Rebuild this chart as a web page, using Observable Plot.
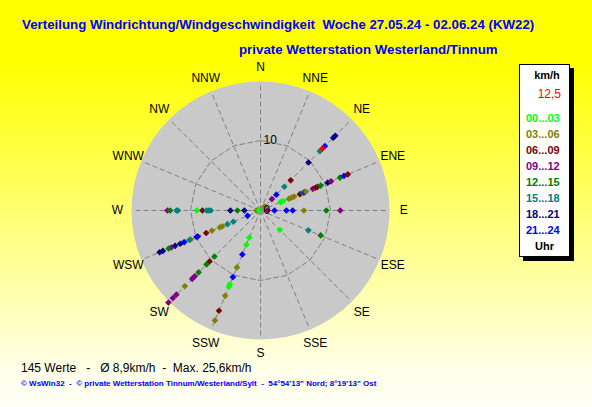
<!DOCTYPE html>
<html>
<head>
<meta charset="utf-8">
<script src="https://cdn.jsdelivr.net/npm/d3@7"></script>
<script src="https://cdn.jsdelivr.net/npm/@observablehq/plot@0.6"></script>
<style>
  body { margin: 0; }
  #wrap { position: relative; width: 592px; height: 407px; overflow: hidden;
    background: linear-gradient(to bottom, #ffff00 0px, #ffff00 60px, #ffffe8 370px, #fffff6 407px);
    font-family: Arial, "Liberation Sans", sans-serif; }
  #chart { position: absolute; left: 0; top: 0; }
  .t { position: absolute; white-space: pre; line-height: 1; }
  #legend { position: absolute; left: 519px; top: 64px; width: 49px; height: 191px;
    background: #fff; border: 1px solid #000; box-shadow: 4px 4px 0 #000; }
  #legend div { position: absolute; white-space: pre; line-height: 1; }
</style>
</head>
<body>
<div id="wrap">
  <div id="chart"></div>
  <div class="t" id="title" style="left:22px;top:18px;font-size:13.3px;font-weight:bold;color:#0000ff"></div>
  <div class="t" id="subtitle" style="left:239px;top:43px;font-size:13.3px;font-weight:bold;color:#0000ff"></div>
  <div id="legend"></div>
  <div class="t" id="foot1" style="left:21px;top:362px;font-size:12px;color:#000"></div>
  <div class="t" id="foot2" style="left:21px;top:380px;font-size:8px;font-weight:bold;color:#0000ff"></div>
</div>
<script>
// ---- texts ----
const titleText = "Verteilung Windrichtung/Windgeschwindigkeit  Woche 27.05.24 - 02.06.24 (KW22)";
const subtitleText = "private Wetterstation Westerland/Tinnum";
const footLine1 = "145 Werte   -   Ø 8,9km/h  -  Max. 25,6km/h";
const footLine2 = "© WsWin32  -  © private Wetterstation Tinnum/Westerland/Sylt  -  54°54'13\" Nord; 8°19'13\" Ost";
const legendUnit = "km/h";
const legendCurrent = "12,5";
const legendFooter = "Uhr";

// ---- categories ----
const directions = ["N","NNE","NE","ENE","E","ESE","SE","SSE","S","SSW","SW","WSW","W","WNW","NW","NNW"];
const hourClasses = ["00...03","03...06","06...09","09...12","12...15","15...18","18...21","21...24","aktuell"];
const classColors = ["#00ff00","#808000","#800000","#800080","#008000","#008080","#000080","#0000ff","#ff0000"];
const ringValues = [10];

// ---- observations per direction: speed (km/h) and hour class index ----
const speedsW   = [13.3,12.9,12.0,11.8,9.1,8.3,7.7,7.4,7.1,4.3,3.3,2.3,0.6,0.2];
const classesW  = [3,4,5,5,0,2,5,5,5,6,4,6,1,0];
const speedsE   = [1.0,2.0,3.7,4.6,6.2,9.4,11.4];
const classesE  = [3,7,7,7,1,4,3];
const speedsENE = [3.1,3.5,4.4,4.8,5.2,6.1,6.6,6.8,7.0,8.1,8.5,8.8,9.3,10.4,10.9,12.3,12.9,13.5];
const classesENE= [0,0,1,1,1,2,5,7,1,3,2,2,4,6,3,4,7,2];
const speedsNE  = [0.8,2.3,3.2,4.8,6.1,9.7,12.0,13.0,14.7,15.1,12.5];
const classesNE = [1,3,7,5,2,6,5,7,6,6,8];
const speedsESE = [7.4,9.3];
const classesESE= [5,4];
const speedsSE  = [3.9];
const classesSE = [0];
const speedsSSW = [4.2,5.3,6.8,8.8,10.3,11.4,11.8,13.2,15.5,17.0];
const classesSSW= [0,0,7,1,7,0,0,1,2,1];
const speedsSW  = [9.3,10.3,10.9,12.5,13.3,13.8,15.3,17.0,17.7,18.6];
const classesSW = [4,2,4,4,3,3,1,3,3,3];
const speedsWSW = [2.0,4.2,5.1,5.9,6.3,7.5,8.4,9.7,9.9,10.8,11.0,11.8,12.4,13.2,13.8,14.2,15.1,15.6];
const classesWSW= [7,5,5,1,1,1,2,6,7,1,5,7,6,6,3,4,6,6];

const groups = [
  ["W", speedsW, classesW], ["E", speedsE, classesE], ["ENE", speedsENE, classesENE],
  ["ESE", speedsESE, classesESE], ["SE", speedsSE, classesSE], ["SSW", speedsSSW, classesSSW],
  ["SW", speedsSW, classesSW], ["WSW", speedsWSW, classesWSW], ["NE", speedsNE, classesNE]
];

// ---- geometry helpers (polar -> cartesian in km/h units) ----
const angleOf = d => directions.indexOf(d) * 22.5 * Math.PI / 180;
const px = (d, r) => r * Math.sin(angleOf(d));
const py = (d, r) => r * Math.cos(angleOf(d));

const points = [];
for (const [dir, speeds, classes] of groups) {
  speeds.forEach((s, i) => points.push({dir, speed: s, cls: classes[i]}));
}

const spokeLen = 18.15;
const discRadiusPx = 129;
const labelR = 20.45;

const ringPts = [];
for (const r of ringValues) {
  for (let i = 0; i <= directions.length; i++) {
    const d = directions[i % directions.length];
    ringPts.push({r, x: px(d, r), y: py(d, r)});
  }
}

const chart = Plot.plot({
  width: 592,
  height: 407,
  margin: 0,
  x: {domain: [-260 / 7, 332 / 7], axis: null},
  y: {domain: [-197 / 7, 210 / 7], axis: null},
  style: {background: "transparent", fontFamily: "Arial, 'Liberation Sans', sans-serif"},
  marks: [
    Plot.dot([{x: 0, y: 0}], {x: "x", y: "y", r: discRadiusPx, fill: "#c9c9c9", stroke: "none"}),
    Plot.link(directions, {
      x1: () => 0, y1: () => 0,
      x2: d => px(d, spokeLen), y2: d => py(d, spokeLen),
      stroke: "#7f7f7f", strokeWidth: 1, strokeDasharray: "5,3"
    }),
    Plot.line(ringPts, {x: "x", y: "y", z: "r", curve: "linear", stroke: "#7f7f7f", strokeWidth: 1, strokeDasharray: "5,3"}),
    Plot.dot(points, {
      x: d => px(d.dir, d.speed), y: d => py(d.dir, d.speed),
      symbol: "diamond2", r: 3,
      fill: d => classColors[d.cls], stroke: "none"
    }),
    Plot.text(directions, {
      x: d => px(d, labelR), y: d => py(d, labelR), text: d => d,
      fontSize: 12, fill: "#000"
    }),
    Plot.text(ringValues, {x: () => 0, y: d => d, text: d => String(d), dx: 3, textAnchor: "start", fontSize: 12, fill: "#000"}),
    Plot.text([0], {x: () => 0, y: () => 0, text: d => String(d), dx: 3, textAnchor: "start", fontSize: 12, fill: "#000"})
  ]
});
document.getElementById("chart").appendChild(chart);

document.getElementById("title").textContent = titleText;
document.getElementById("subtitle").textContent = subtitleText;
document.getElementById("foot1").textContent = footLine1;
document.getElementById("foot2").textContent = footLine2;

// ---- legend ----
const leg = document.getElementById("legend");
function addLeg(text, top, style) {
  const el = document.createElement("div");
  el.textContent = text;
  el.style.top = top + "px";
  Object.assign(el.style, style);
  leg.appendChild(el);
}
addLeg(legendUnit, 5, {left: "0", width: "49px", textAlign: "center", fontWeight: "bold", fontSize: "11px", paddingLeft: "5px", boxSizing: "border-box"});
addLeg(legendCurrent, 23, {right: "8px", fontSize: "12px", color: classColors[8]});
hourClasses.slice(0, 8).forEach((h, i) => {
  addLeg(h, 48 + i * 16, {left: "6px", fontWeight: "bold", fontSize: "11px", color: classColors[i]});
});
addLeg(legendFooter, 176, {left: "0", width: "49px", textAlign: "center", fontWeight: "bold", fontSize: "11px"});
</script>
</body>
</html>
